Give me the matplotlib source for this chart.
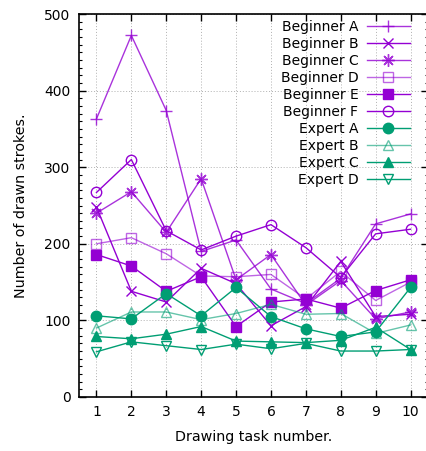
import matplotlib
matplotlib.use("Agg")
import matplotlib.pyplot as plt
from matplotlib.ticker import MultipleLocator

tasks = [1, 2, 3, 4, 5, 6, 7, 8, 9, 10]

beginner_a = [363, 472, 374, 190, 205, 141, 122, 155, 226, 239]
beginner_b = [248, 138, 124, 168, 148, 93, 118, 177, 105, 108]
beginner_c = [240, 268, 215, 285, 153, 186, 120, 152, 102, 111]
beginner_d = [200, 208, 187, 158, 157, 160, 128, 164, 126, 150]
beginner_e = [186, 171, 138, 157, 92, 124, 128, 116, 139, 153]
beginner_f = [267, 310, 217, 192, 210, 225, 195, 156, 213, 219]
expert_a = [106, 102, 135, 106, 143, 105, 89, 79, 85, 143]
expert_b = [90, 111, 111, 101, 109, 121, 108, 109, 83, 94]
expert_c = [79, 76, 82, 92, 73, 72, 71, 74, 91, 62]
expert_d = [59, 72, 67, 62, 69, 63, 70, 60, 60, 62]

PURPLE = "#9400d3"
GREEN = "#009e73"

series = [
    ("Beginner A", beginner_a, PURPLE, "+", True, 0.8, 8.5),
    ("Beginner B", beginner_b, PURPLE, "x", True, 1.0, 7),
    ("Beginner C", beginner_c, PURPLE, (8, 2, 0), True, 0.8, 9),
    ("Beginner D", beginner_d, PURPLE, "s", False, 0.6, 7.5),
    ("Beginner E", beginner_e, PURPLE, "s", True, 1.0, 7.5),
    ("Beginner F", beginner_f, PURPLE, "o", False, 1.0, 7.5),
    ("Expert A", expert_a, GREEN, "o", True, 1.0, 7.5),
    ("Expert B", expert_b, GREEN, "^", False, 0.6, 7.5),
    ("Expert C", expert_c, GREEN, "^", True, 1.0, 7.5),
    ("Expert D", expert_d, GREEN, "v", False, 1.0, 7.5),
]

fig = plt.figure(figsize=(4.26, 4.51), dpi=100)
ax = fig.add_axes([79 / 426, 54 / 451, 349 / 426, 383 / 451])

for label, vals, color, marker, filled, alpha, ms in series:
    ax.plot(tasks, vals, color=color, lw=1.0, alpha=alpha, marker=marker,
            markersize=ms, markeredgewidth=1.0,
            markerfacecolor=color if filled else "none",
            markeredgecolor=color, label=label)

ax.set_xlim(0.5, 10.5)
ax.set_ylim(0, 500)
ax.set_xticks(tasks)
ax.yaxis.set_major_locator(MultipleLocator(100))
ax.yaxis.set_minor_locator(MultipleLocator(10))
ax.tick_params(axis="both", which="major", direction="in", length=5, width=1,
               top=True, right=True, labelsize=10, pad=6)
ax.tick_params(axis="y", which="minor", direction="in", length=2.5, width=0.8,
               right=True)
ax.grid(True, which="major", color="#b0b0b0", linestyle=(0, (1, 2)), lw=0.7)
for s in ax.spines.values():
    s.set_linewidth(1.2)

ax.set_xlabel("Drawing task number.", fontsize=10.3, labelpad=8)
ax.set_ylabel("Number of drawn strokes.", fontsize=10.3, labelpad=12)

leg = ax.legend(loc="upper right", bbox_to_anchor=(0.948, 0.985),
                frameon=False, markerfirst=False, fontsize=10,
                handlelength=3.1, handletextpad=0.6, labelspacing=0.22,
                borderpad=0, borderaxespad=0)

fig.savefig("out.png", dpi=100)
